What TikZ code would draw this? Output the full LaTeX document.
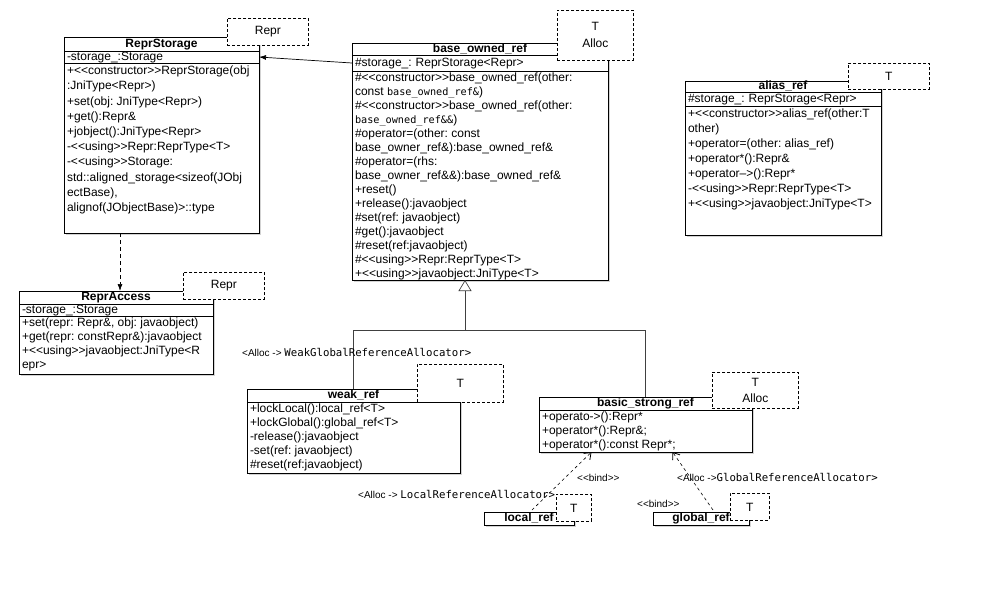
\documentclass[tikz,border=0pt]{standalone}
\usepackage{fontspec}
\newfontfamily\umlfont{Liberation Sans}[Ligatures=TeXOff]
\newfontfamily\codefont{DejaVu Sans Mono}
\usepackage{tikz}
\usetikzlibrary{arrows.meta}
\usetikzlibrary{shadows}
\usetikzlibrary{positioning}

\newcommand{\memberlist}[4][14]{\parbox[t][#3pt][t]{#2pt}{\fontsize{12}{#1}\selectfont\frenchspacing\raggedright\strut #4}}
\newcommand{\code}[1]{{\codefont\fontsize{10.2}{14}\selectfont #1}}
\newcommand{\tcode}[1]{{\codefont\fontsize{10.7}{12}\selectfont #1}}

\tikzset{
  classpart/.style={draw, fill=white, line width=0.9pt, inner xsep=3pt, inner ysep=1pt, outer sep=0pt, anchor=north west,
    font=\umlfont\fontsize{12}{14}\selectfont\frenchspacing,
    drop shadow={shadow xshift=2pt, shadow yshift=-2pt, opacity=0.35}},
  classname/.style={classpart, font=\umlfont\bfseries\fontsize{12}{14}\selectfont, text height=8.8pt, text depth=2.4pt, inner ysep=0pt},
  classattr/.style={classpart, align=left, text height=8.8pt, text depth=2.4pt, inner ysep=0pt},
  classops/.style={classpart},
  tmplbox/.style={draw, dash pattern=on 3pt off 2pt, fill=white, line width=0.8pt, anchor=north west,
    font=\umlfont\fontsize{12}{14}\selectfont, align=center, inner sep=0pt},
  linklabel/.style={font=\umlfont\fontsize{10}{12}\selectfont, anchor=west, inner sep=0pt},
  umlline/.style={line width=0.7pt, draw=black!75},
  generalize/.style={umlline, -{Triangle[open, length=11pt, width=13pt, fill=white]}},
  bind/.style={line width=0.6pt, dash pattern=on 3pt off 3pt, -{Straight Barb[length=6pt, width=9pt, line width=0.8pt]}},
}

\begin{document}
\begin{tikzpicture}[x=1pt, y=-1pt, >={Latex[length=7pt, width=5pt]}]
  \useasboundingbox (0,0) rectangle (1002,598);

  % ReprStorage
  \node[classname, minimum width=195pt, minimum height=14pt] (storageHead) at (64,37) {ReprStorage};
  \node[classattr, text width=189pt, minimum height=12pt, below right=0pt and 0pt of storageHead.south west] (storageAttr) {-storage\_:Storage};
  \node[classops, below right=0pt and 0pt of storageAttr.south west] (storageOps) {\memberlist[15.2]{189}{168}{%
    +<<constructor>>ReprStorage(obj\\ :JniType<Repr>)\\ +set(obj: JniType<Repr>)\\ +get():Repr\&\\
    +jobject():JniType<Repr>\\ -<<using>>Repr:ReprType<T>\\ -<<using>>Storage:\\
    std::aligned\_storage<sizeof(JObj\\ ectBase),\\ alignof(JObjectBase)>::type}};
  \node[tmplbox, minimum width=81pt, minimum height=27pt] (storageTmpl) at (227,18) {Repr};

  % ReprAccess
  \node[classname, minimum width=194pt, minimum height=13pt] (accessHead) at (19,291) {ReprAccess};
  \node[classattr, text width=188pt, minimum height=12pt, below right=0pt and 0pt of accessHead.south west] (accessAttr) {-storage\_:Storage};
  \node[classops, below right=0pt and 0pt of accessAttr.south west] (accessOps) {\memberlist{188}{56}{%
    +set(repr: Repr\&, obj: javaobject)\\ +get(repr: constRepr\&):javaobject\\
    +<<using>>javaobject:JniType<R\\ epr>}};
  \node[tmplbox, minimum width=81pt, minimum height=27pt] (accessTmpl) at (183,272) {Repr};

  % base_owned_ref
  \node[classname, minimum width=256pt, minimum height=12pt] (baseHead) at (352,43) {base\_owned\_ref};
  \node[classattr, text width=250pt, minimum height=16pt, below right=0pt and 0pt of baseHead.south west] (baseAttr) {\#storage\_: ReprStorage<Repr>};
  \node[classops, below right=0pt and 0pt of baseAttr.south west] (baseOps) {\memberlist{250}{207}{%
    \#<<constructor>>base\_owned\_ref(other:\\ const \code{base\_owned\_ref\&})\\
    \#<<constructor>>base\_owned\_ref(other:\\ \code{base\_owned\_ref\&\&})\\
    \#operator=(other: const\\ base\_owner\_ref\&):base\_owned\_ref\&\\
    \#operator=(rhs:\\ base\_owner\_ref\&\&):base\_owned\_ref\&\\
    +reset()\\ +release():javaobject\\ \#set(ref: javaobject)\\ \#get():javaobject\\
    \#reset(ref:javaobject)\\ \#<<using>>Repr:ReprType<T>\\ +<<using>>javaobject:JniType<T>}};
  \node[tmplbox, minimum width=76pt, minimum height=50pt] (baseTmpl) at (557,10) {T\\[3pt]Alloc};

  % alias_ref
  \node[classname, minimum width=196pt, minimum height=11pt] (aliasHead) at (685,81) {alias\_ref};
  \node[classattr, text width=190pt, minimum height=14pt, below right=0pt and 0pt of aliasHead.south west] (aliasAttr) {\#storage\_: ReprStorage<Repr>};
  \node[classops, below right=0pt and 0pt of aliasAttr.south west] (aliasOps) {\memberlist[15]{190}{127}{%
    +<<constructor>>alias\_ref(other:T\\ other)\\ +operator=(other: alias\_ref)\\ +operator*():Repr\&\\
    +operator–>():Repr*\\ -<<using>>Repr:ReprType<T>\\ +<<using>>javaobject:JniType<T>}};
  \node[tmplbox, minimum width=81pt, minimum height=26pt] (aliasTmpl) at (848,63) {T};

  % weak_ref
  \node[classname, minimum width=213pt, minimum height=13pt] (weakHead) at (247,389) {weak\_ref};
  \node[classops, below right=0pt and 0pt of weakHead.south west] (weakOps) {\memberlist{207}{69}{%
    +lockLocal():local\_ref<T>\\ +lockGlobal():global\_ref<T>\\ -release():javaobject\\
    -set(ref: javaobject)\\ \#reset(ref:javaobject)}};
  \node[tmplbox, minimum width=86pt, minimum height=38pt] (weakTmpl) at (417,364) {T};

  % basic_strong_ref
  \node[classname, minimum width=213pt, minimum height=13pt] (strongHead) at (539,397) {basic\_strong\_ref};
  \node[classops, below right=0pt and 0pt of strongHead.south west] (strongOps) {\memberlist{207}{40}{%
    +operato->():Repr*\\ +operator*():Repr\&;\\ +operator*():const Repr*;}};
  \node[tmplbox, minimum width=86pt, minimum height=36pt] (strongTmpl) at (712,372) {T\\[2pt]Alloc};

  % local_ref, global_ref
  \node[classname, minimum width=90pt, minimum height=13pt] (localHead) at (484,512) {local\_ref};
  \node[tmplbox, minimum width=35pt, minimum height=27pt] (localTmpl) at (556,494) {T};
  \node[classname, minimum width=96pt, minimum height=13pt] (globalHead) at (653,512) {global\_ref};
  \node[tmplbox, minimum width=39pt, minimum height=27pt] (globalTmpl) at (730,493) {T};

  % connectors
  \draw[umlline, draw=black, ->] (baseAttr.west) -- (storageAttr.east);
  \draw[umlline, draw=black, dash pattern=on 4pt off 3pt, ->] ([xshift=4pt]accessHead.north |- storageOps.south) -- ([xshift=4pt]accessHead.north);

  \coordinate (fork) at (465,330);
  \draw[generalize] (weakHead.north) |- (fork) -- (fork |- baseOps.south);
  \draw[umlline] (strongHead.north) |- (fork);

  \draw[bind] ([xshift=3pt, yshift=2pt]localHead.north) -- ([xshift=-54pt]strongOps.south);
  \draw[bind] ([xshift=12pt, yshift=2pt]globalHead.north) -- ([xshift=27pt]strongOps.south);

  % labels
  \node[linklabel] (weakBind) at (242,352) {<Alloc -> \tcode{WeakGlobalReferenceAllocator>}};
  \node[linklabel] (localBind) at (358,494) {<Alloc -> \tcode{LocalReferenceAllocator>}};
  \node[linklabel] (localStereo) at (577,478) {<<bind>>};
  \node[linklabel] (globalStereo) at (637,504) {<<bind>>};
  \node[linklabel] (globalBind) at (677,477) {<Alloc ->\tcode{GlobalReferenceAllocator>}};
\end{tikzpicture}
\end{document}
